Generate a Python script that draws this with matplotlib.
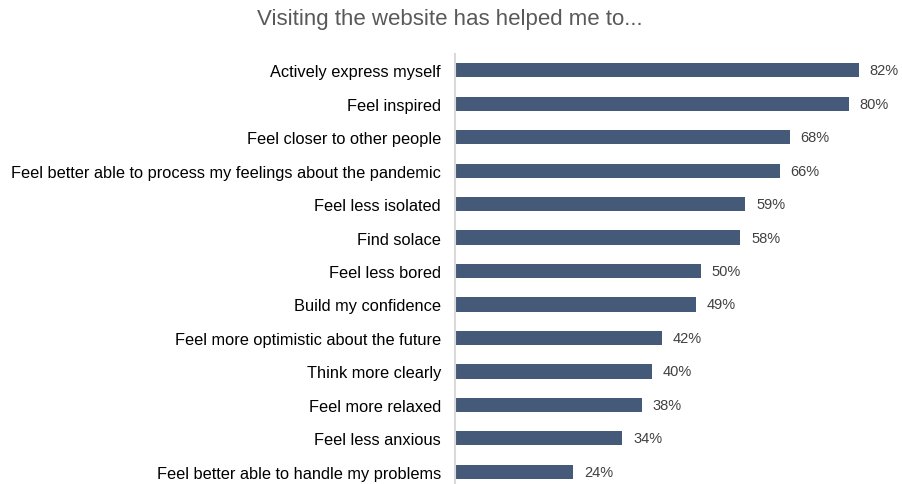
import matplotlib.pyplot as plt

# Survey items (top to bottom) and share of respondents agreeing
items = [
    "Actively express myself",
    "Feel inspired",
    "Feel closer to other people",
    "Feel better able to process my feelings about the pandemic",
    "Feel less isolated",
    "Find solace",
    "Feel less bored",
    "Build my confidence",
    "Feel more optimistic about the future",
    "Think more clearly",
    "Feel more relaxed",
    "Feel less anxious",
    "Feel better able to handle my problems",
]
percent = [82, 80, 68, 66, 59, 58, 50, 49, 42, 40, 38, 34, 24]

bar_color = '#455a79'
font = ['Liberation Sans', 'DejaVu Sans']

fig = plt.figure(figsize=(9.02, 4.85), dpi=100)
ax = fig.add_axes([455 / 902, 0, 443 / 902, 430 / 485])

ypos = list(range(len(items)))
ax.barh(ypos, percent, height=0.42, color=bar_color)

for y, v in zip(ypos, percent):
    ax.text(v + 2.2, y, f'{v}%', va='center', ha='left', fontsize=10.5,
            color='#404040', family=font)

ax.set_xlim(0, 90)
ax.set_ylim(12.36, -0.48)
ax.set_yticks(ypos)
ax.set_yticklabels(items, fontsize=11.8, family=font, color='black')
ax.tick_params(axis='y', length=0, pad=10)
ax.set_xticks([])

for side in ['top', 'right', 'bottom']:
    ax.spines[side].set_visible(False)
ax.spines['left'].set_color('#d9d9d9')
ax.spines['left'].set_linewidth(1.5)

fig.text(450 / 902, 1 - 20 / 485, 'Visiting the website has helped me to...',
         ha='center', va='center', fontsize=16, color='#595959', family=font)

fig.savefig('out.png', dpi=100)
